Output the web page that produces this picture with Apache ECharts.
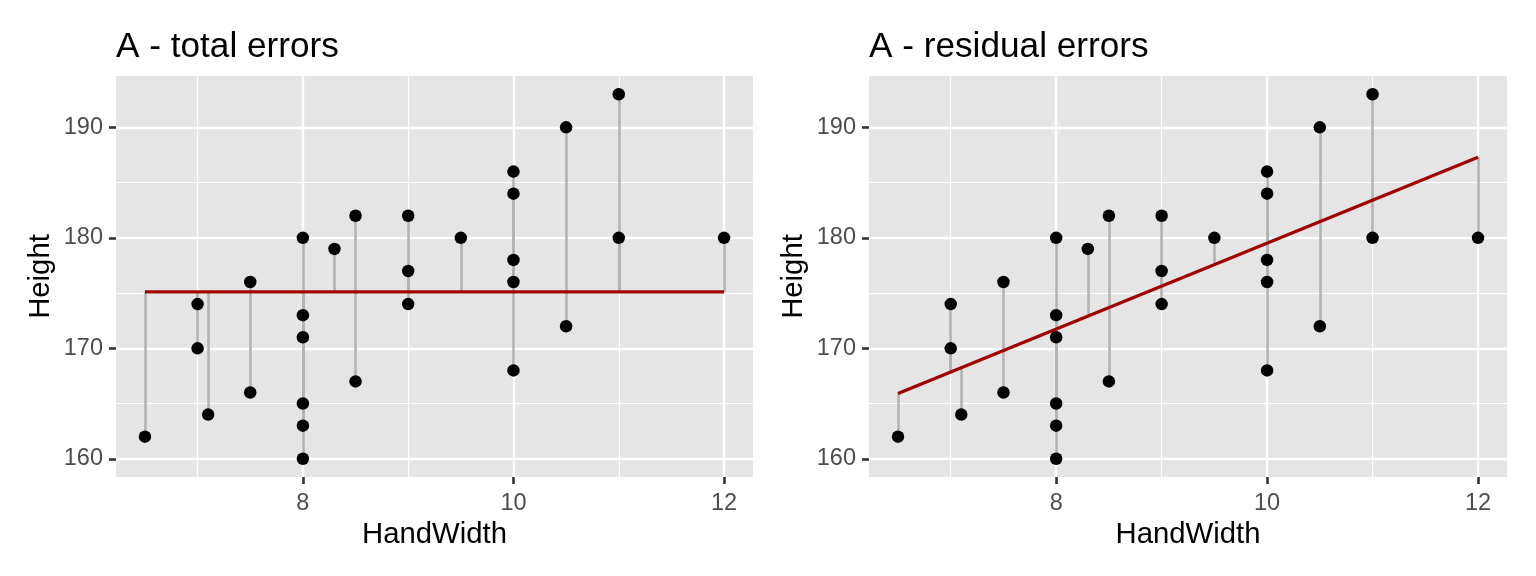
<!DOCTYPE html>
<html>
<head>
<meta charset="utf-8">
<script src="https://cdn.jsdelivr.net/npm/echarts@6/dist/echarts.min.js"></script>
<style>
  html, body { margin: 0; padding: 0; background: #ffffff; }
  #chart { width: 1536px; height: 576px; }
</style>
</head>
<body>
<div id="chart"></div>
<script>
// ---- data ----
const handWidth = [6.5, 7, 7, 7.1, 7.5, 7.5, 8, 8, 8, 8, 8, 8, 8.3, 8.5, 8.5, 9, 9, 9, 9.5, 10, 10, 10, 10, 10, 10.5, 10.5, 11, 11, 12];
const height    = [162, 174, 170, 164, 176, 166, 180, 173, 171, 165, 163, 160, 179, 182, 167, 182, 177, 174, 180, 186, 184, 178, 176, 168, 190, 172, 193, 180, 180];
const meanHeight = 175.1;            // horizontal line, left panel
const fitX = [6.5, 12];              // fitted line ends, right panel
const fitY = [165.9, 187.3];
const panelTitles = ['A - total errors', 'A - residual errors'];
const xMajorTicks = [8, 10, 12];
const xMinorTicks = [7, 9, 11];
const yMajorTicks = [160, 170, 180, 190];
const yMinorTicks = [165, 175, 185];
const xName = 'HandWidth';
const yName = 'Height';

// ---- derived ----
const xMinData = Math.min(...handWidth), xMaxData = Math.max(...handWidth);
const yMinData = Math.min(...height), yMaxData = Math.max(...height);
const xPad = (xMaxData - xMinData) * 0.05, yPad = (yMaxData - yMinData) * 0.05;
const X_MIN = xMinData - xPad, X_MAX = xMaxData + xPad;
const Y_MIN = yMinData - yPad, Y_MAX = yMaxData + yPad;
const fitSlope = (fitY[1] - fitY[0]) / (fitX[1] - fitX[0]);
const fitAt = x => fitY[0] + fitSlope * (x - fitX[0]);

const FONT = '"Liberation Sans", Arial, Helvetica, sans-serif';
const points = handWidth.map((x, i) => [x, height[i]]);

function xAxes(gi) {
  return [
    {
      gridIndex: gi, type: 'value', min: X_MIN, max: X_MAX, position: 'bottom',
      name: xName, nameLocation: 'middle', nameGap: 39,
      nameTextStyle: { fontSize: 29.3, color: '#000000', fontFamily: FONT },
      axisLine: { show: false },
      axisTick: { show: true, length: 7, customValues: xMajorTicks, lineStyle: { color: '#333333', width: 2.6 } },
      axisLabel: { show: true, customValues: xMajorTicks, margin: 15, fontSize: 23.5, color: '#4D4D4D', fontFamily: FONT },
      splitLine: { show: true, lineStyle: { color: '#FFFFFF', width: 2.4 } }
    },
    {
      gridIndex: gi, type: 'value', min: X_MIN, max: X_MAX, position: 'top',
      axisLine: { show: false },
      axisTick: { show: false, customValues: xMinorTicks },
      axisLabel: { show: false, customValues: xMinorTicks },
      splitLine: { show: true, lineStyle: { color: '#FFFFFF', width: 1.2 } }
    }
  ];
}
function yAxes(gi) {
  return [
    {
      gridIndex: gi, type: 'value', min: Y_MIN, max: Y_MAX, position: 'left',
      name: yName, nameLocation: 'middle', nameGap: 61,
      nameTextStyle: { fontSize: 29.3, color: '#000000', fontFamily: FONT },
      axisLine: { show: false },
      axisTick: { show: true, length: 7, customValues: yMajorTicks, lineStyle: { color: '#333333', width: 2.6 } },
      axisLabel: { show: true, customValues: yMajorTicks, margin: 13, fontSize: 23.5, color: '#4D4D4D', fontFamily: FONT },
      splitLine: { show: true, lineStyle: { color: '#FFFFFF', width: 2.4 } }
    },
    {
      gridIndex: gi, type: 'value', min: Y_MIN, max: Y_MAX, position: 'right',
      axisLine: { show: false },
      axisTick: { show: false, customValues: yMinorTicks },
      axisLabel: { show: false, customValues: yMinorTicks },
      splitLine: { show: true, lineStyle: { color: '#FFFFFF', width: 1.2 } }
    }
  ];
}

function panelSeries(gi, target) {
  const xi = gi * 2, yi = gi * 2;
  return [
    {
      type: 'lines', coordinateSystem: 'cartesian2d', xAxisIndex: xi, yAxisIndex: yi,
      silent: true, z: 2,
      lineStyle: { color: '#B3B3B3', width: 2.6, opacity: 1 },
      data: points.map(p => ({ coords: [[p[0], p[1]], [p[0], target(p[0])]] }))
    },
    {
      type: 'line', xAxisIndex: xi, yAxisIndex: yi, silent: true, z: 3,
      symbol: 'none', animation: false,
      lineStyle: { color: '#A00000', width: 3.2 },
      data: [[xMinData, target(xMinData)], [xMaxData, target(xMaxData)]]
    },
    {
      type: 'scatter', xAxisIndex: xi, yAxisIndex: yi, silent: true, z: 4,
      symbol: 'circle', symbolSize: 12.5,
      itemStyle: { color: '#000000', opacity: 1 },
      data: points
    }
  ];
}

const chart = echarts.init(document.getElementById('chart'), null, { renderer: 'canvas' });
chart.setOption({
  animation: false,
  backgroundColor: '#FFFFFF',
  textStyle: { fontFamily: FONT },
  title: [
    { text: panelTitles[0], left: 116, top: 30, padding: 0, textStyle: { fontSize: 35.2, fontWeight: 'normal', color: '#000000', fontFamily: FONT } },
    { text: panelTitles[1], left: 869, top: 30, padding: 0, textStyle: { fontSize: 35.2, fontWeight: 'normal', color: '#000000', fontFamily: FONT } }
  ],
  grid: [
    { left: 116, top: 76, width: 637, height: 401, show: true, backgroundColor: '#E5E5E5', borderWidth: 0 },
    { left: 869, top: 76, width: 638, height: 401, show: true, backgroundColor: '#E5E5E5', borderWidth: 0 }
  ],
  xAxis: [...xAxes(0), ...xAxes(1)],
  yAxis: [...yAxes(0), ...yAxes(1)],
  series: [
    ...panelSeries(0, () => meanHeight),
    ...panelSeries(1, fitAt)
  ]
});
</script>
</body>
</html>
